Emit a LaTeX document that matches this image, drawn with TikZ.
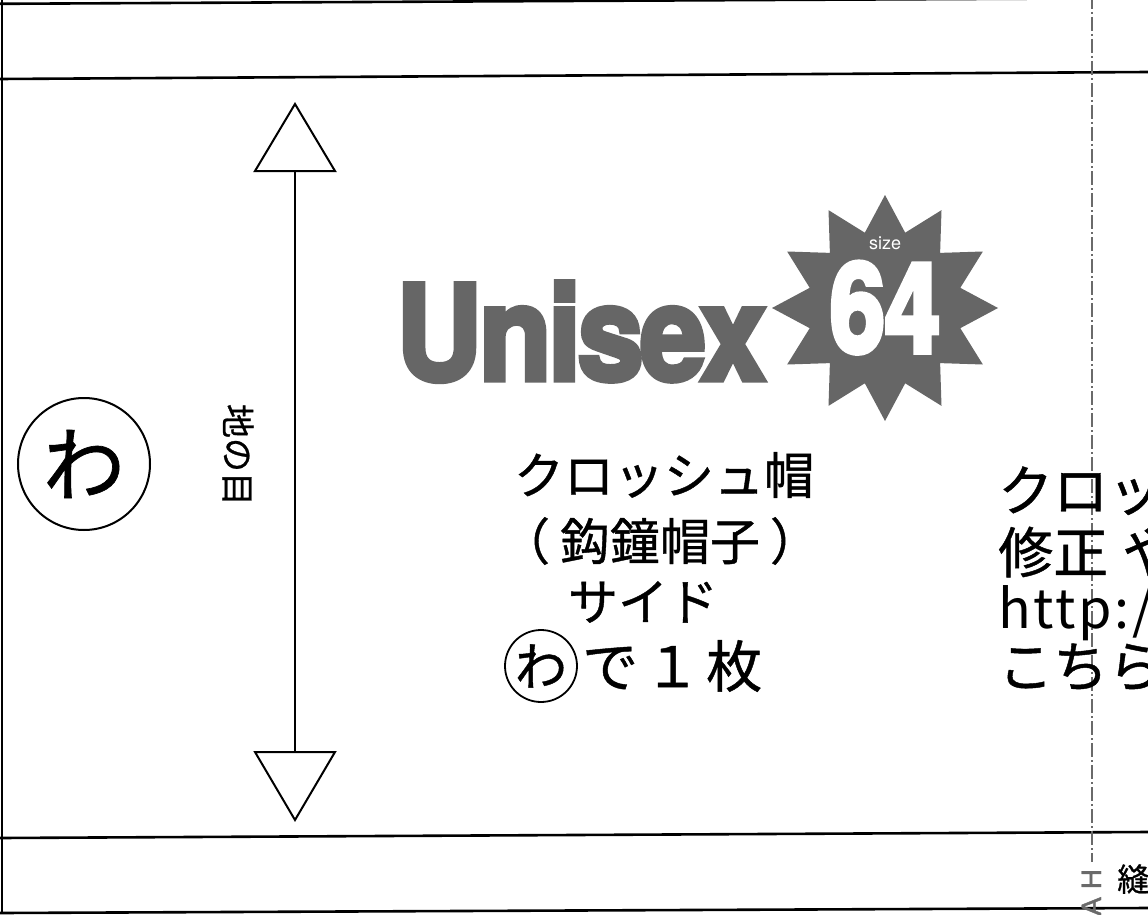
\documentclass[tikz,border=0pt]{standalone}
\usepackage{fontspec}
\setmainfont{Noto Sans CJK JP}[FakeBold=0.8]
\newfontfamily\logofont{TeX Gyre Heros}[BoldFeatures={FakeBold=4,LetterSpace=-3}]
\newfontfamily\numfont{TeX Gyre Heros}[BoldFeatures={FakeBold=4.5}]
\newfontfamily\urlfont{Noto Sans CJK JP}[LetterSpace=5]
\newfontfamily\lsans{Liberation Sans}[FakeBold=1.5]
\usetikzlibrary{shapes.geometric}
\definecolor{logo}{HTML}{666666}
\definecolor{cline}{HTML}{6A6A6A}
\newcommand\fsz[1]{\fontsize{#1}{#1}\selectfont}
\tikzset{
  frameline/.style={line width=2.6pt, black},
  tri/.style={line width=2pt, line join=miter},
  jp/.style={font=\fsz{50}, inner sep=0pt},
  jpl/.style={font=\fsz{55}, inner sep=0pt, anchor=west},
  centerline/.style={cline, line width=2.2pt, dash pattern=on 14pt off 3pt on 2pt off 3pt}
}
\begin{document}
\begin{tikzpicture}[x=1pt,y=-1pt]
\useasboundingbox (0,0) rectangle (1148,915);
\fill[white] (0,0) rectangle (1148,915);
\clip (0,0) rectangle (1148,915);

% frame
\draw[frameline] (2,-2) -- (2,914);
\draw[frameline] (0,3.8) -- (1148,-1.9);
\draw[frameline] (0,79) -- (1148,72);
\draw[frameline] (0,838) -- (1148,832);
\draw[frameline] (0,913) -- (1148,908);

% centre (dash-dot) line
\coordinate (ctop) at (1092,-5);
\coordinate (cbot) at (1092,862);
\draw[centerline] (ctop) -- (cbot);
\node[rotate=90, anchor=base west, inner sep=0pt, text=cline, font=\lsans\fsz{28}] (ah) at (1101,916) {A\hspace{8pt}H};
\node[anchor=west, inner sep=0pt, font=\fsz{32}] (nui) at (1117,879) {縫};

% fold mark
\node[circle, draw, line width=2pt, minimum size=132pt, inner sep=0pt, font=\fsz{82}] (wa) at (84,464) {わ};

% grain line arrow
\coordinate (atop) at (295,171);
\coordinate (abot) at (295,752);
\draw[line width=2pt] (atop) -- (abot);
\draw[tri] (255,171) -- (295,104) -- (335,171) -- cycle;
\draw[tri] (255,752) -- (295,820) -- (335,752) -- cycle;
\node[rotate=-90, inner sep=0pt, font=\fsz{34}] (grain) at (238,455) {地の目};

% logo
\node[anchor=base west, inner sep=0pt, text=logo, font=\logofont\bfseries\fsz{132}] (unisex) at (396,380) {\scalebox{0.9}[1]{Unisex}};
\node[star, star points=12, star point ratio=1.45, minimum size=226pt, inner sep=0pt, fill=logo] (star) at (885,308) {};
\node[inner sep=0pt, text=white, font=\logofont\fsz{18}] (size) at (885,243) {size};
\node[anchor=base, inner sep=0pt, text=white, font=\numfont\bfseries\fsz{124}] (num) at (885,352) {\scalebox{0.8}[1]{64}};

% centre texts
\node[jp] (t1) at (664,475) {クロッシュ帽};
\node[jp] (t2) at (660,541) {\kern-10pt（\kern10pt 鈎鐘帽子\kern10pt）\kern-10pt};
\node[jp] (t3) at (643,602) {サイド};
\node[circle, draw, line width=1.8pt, minimum size=72pt, inner sep=0pt, font=\fsz{52}] (wa2) at (541,666) {わ};
\node[anchor=west, inner sep=0pt, font=\fsz{56}] (t4) at (582,666) {で\kern6pt １\kern6pt 枚};

% right texts (cut off by the sheet edge)
\node[jpl] (r1) at (998,490) {クロッシュ帽};
\node[jpl] (r2) at (998,552) {修正\kern14pt や};
\node[anchor=base west, inner sep=0pt, font=\urlfont\fsz{54}] (r3) at (998,628) {http://};
\node[jpl] (r4) at (998,667) {こちらから};
\end{tikzpicture}
\end{document}
